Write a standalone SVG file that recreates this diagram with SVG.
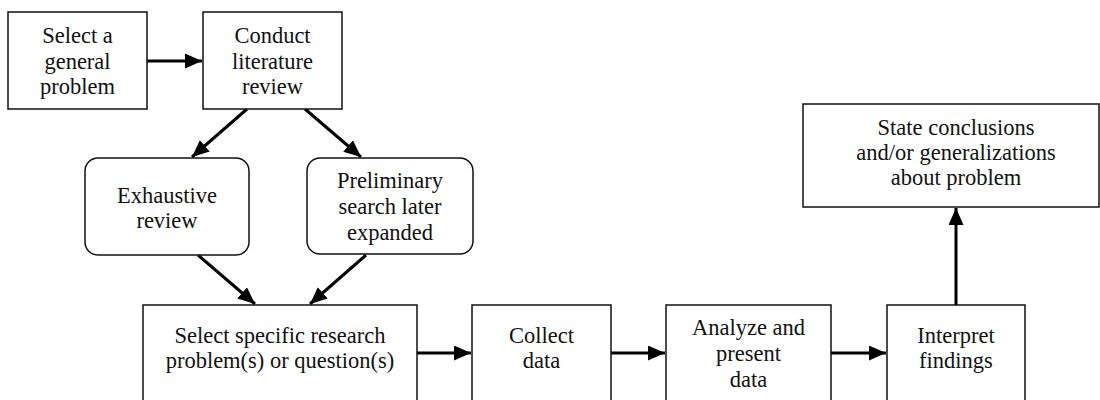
<svg xmlns="http://www.w3.org/2000/svg" width="1100" height="400" viewBox="0 0 1100 400">
<style>
  .box { fill: #ffffff; stroke: #111111; stroke-width: 1.5; }
  .lbl { font-family: "Liberation Serif", "Times New Roman", serif; font-size: 22.5px; fill: #111111; text-anchor: middle; }
  .conn { stroke: #000000; stroke-width: 3; fill: none; marker-end: url(#arrow); }
</style>
<defs>
  <marker id="arrow" markerUnits="userSpaceOnUse" markerWidth="18" markerHeight="16" refX="17" refY="7.5" orient="auto">
    <path d="M0,0 L17,7.5 L0,15 z" fill="#000000"/>
  </marker>
</defs>
<rect width="1100" height="400" fill="#ffffff"/>

<g id="connectors">
  <line class="conn" x1="147" y1="61" x2="202" y2="61"/>
  <line class="conn" x1="247" y1="109" x2="192" y2="157"/>
  <line class="conn" x1="305" y1="109" x2="361" y2="157"/>
  <line class="conn" x1="198" y1="255" x2="255" y2="304"/>
  <line class="conn" x1="366" y1="255" x2="310" y2="304"/>
  <line class="conn" x1="417" y1="353" x2="471" y2="353"/>
  <line class="conn" x1="611" y1="353" x2="665" y2="353"/>
  <line class="conn" x1="831" y1="353" x2="886" y2="353"/>
  <line class="conn" x1="956" y1="305" x2="956" y2="208"/>
</g>

<g id="select-general">
  <rect class="box" x="8" y="12" width="139" height="97"/>
  <text class="lbl" x="77.5" y="43">Select a</text>
  <text class="lbl" x="77.5" y="68.5">general</text>
  <text class="lbl" x="77.5" y="94">problem</text>
</g>

<g id="literature-review">
  <rect class="box" x="203" y="12" width="139" height="97"/>
  <text class="lbl" x="272.5" y="43">Conduct</text>
  <text class="lbl" x="272.5" y="68.5">literature</text>
  <text class="lbl" x="272.5" y="94">review</text>
</g>

<g id="exhaustive-review">
  <rect class="box" x="85" y="158" width="164" height="97" rx="13" ry="13"/>
  <text class="lbl" x="167" y="203">Exhaustive</text>
  <text class="lbl" x="167" y="228">review</text>
</g>

<g id="preliminary-search">
  <rect class="box" x="307" y="158" width="166" height="96" rx="13" ry="13"/>
  <text class="lbl" x="390" y="188">Preliminary</text>
  <text class="lbl" x="390" y="214">search later</text>
  <text class="lbl" x="390" y="240">expanded</text>
</g>

<g id="select-specific">
  <rect class="box" x="143" y="305" width="274" height="110"/>
  <text class="lbl" x="280" y="343">Select specific research</text>
  <text class="lbl" x="280" y="368">problem(s) or question(s)</text>
</g>

<g id="collect-data">
  <rect class="box" x="472" y="305" width="139" height="110"/>
  <text class="lbl" x="541.5" y="343">Collect</text>
  <text class="lbl" x="541.5" y="368">data</text>
</g>

<g id="analyze-data">
  <rect class="box" x="666" y="305" width="165" height="110"/>
  <text class="lbl" x="748.5" y="335">Analyze and</text>
  <text class="lbl" x="748.5" y="361">present</text>
  <text class="lbl" x="748.5" y="387">data</text>
</g>

<g id="interpret-findings">
  <rect class="box" x="887" y="305" width="138" height="110"/>
  <text class="lbl" x="956" y="343">Interpret</text>
  <text class="lbl" x="956" y="368">findings</text>
</g>

<g id="state-conclusions">
  <rect class="box" x="803" y="104" width="296" height="103"/>
  <text class="lbl" x="956" y="135">State conclusions</text>
  <text class="lbl" x="956" y="160">and/or generalizations</text>
  <text class="lbl" x="956" y="185">about problem</text>
</g>
</svg>
